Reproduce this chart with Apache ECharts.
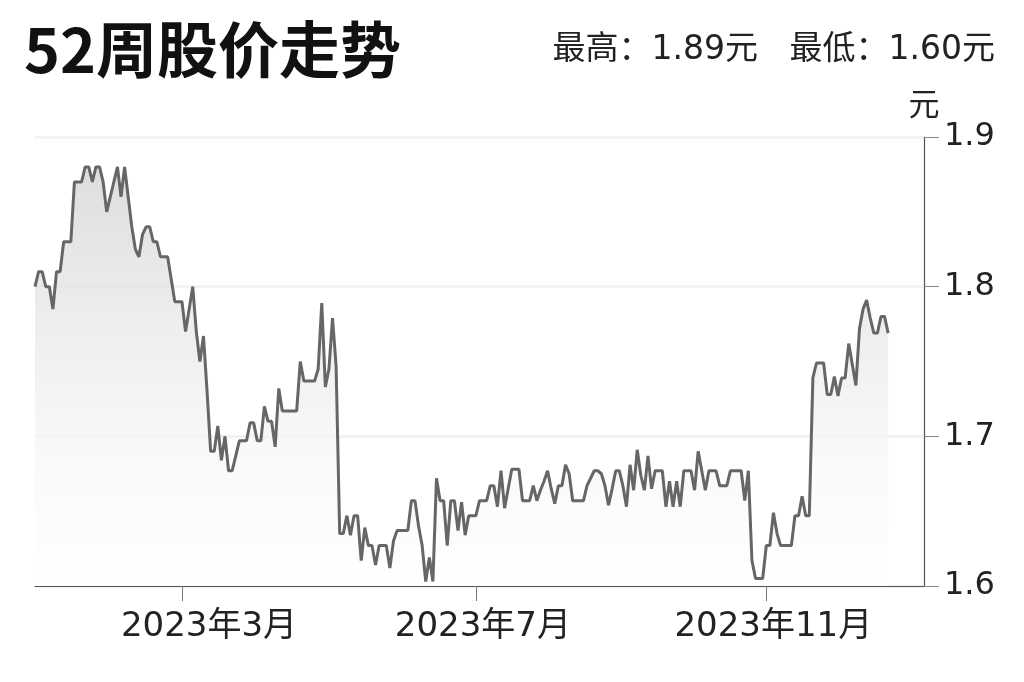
<!DOCTYPE html>
<html><head><meta charset="utf-8">
<script src="https://cdn.jsdelivr.net/npm/echarts@6/dist/echarts.min.js"></script>
<style>html,body{margin:0;padding:0;background:#fff}#c{width:1024px;height:682px}</style>
</head><body><div id="c"></div>
<script>
// Daily closing prices (元), one per trading day
const prices = [
  1.80, 1.81, 1.81, 1.80, 1.80, 1.785, 1.81, 1.81, 1.83, 1.83,
  1.83, 1.87, 1.87, 1.87, 1.88, 1.88, 1.87, 1.88, 1.88, 1.87,
  1.85, 1.86, 1.87, 1.88, 1.86, 1.88, 1.86, 1.84, 1.825, 1.82,
  1.835, 1.84, 1.84, 1.83, 1.83, 1.82, 1.82, 1.82, 1.805, 1.79,
  1.79, 1.79, 1.77, 1.785, 1.80, 1.77, 1.75, 1.767, 1.73, 1.69,
  1.69, 1.707, 1.684, 1.70, 1.677, 1.677, 1.687, 1.697, 1.697, 1.697,
  1.709, 1.709, 1.697, 1.697, 1.72, 1.71, 1.71, 1.693, 1.732, 1.717,
  1.717, 1.717, 1.717, 1.717, 1.75, 1.737, 1.737, 1.737, 1.737, 1.745,
  1.789, 1.733, 1.745, 1.779, 1.747, 1.635, 1.635, 1.647, 1.634, 1.647,
  1.647, 1.617, 1.639, 1.627, 1.627, 1.614, 1.627, 1.627, 1.627, 1.612,
  1.63, 1.637, 1.637, 1.637, 1.637, 1.657, 1.657, 1.64, 1.627, 1.603,
  1.619, 1.603, 1.672, 1.657, 1.657, 1.627, 1.657, 1.657, 1.637, 1.656,
  1.634, 1.647, 1.647, 1.647, 1.657, 1.657, 1.657, 1.667, 1.667, 1.653,
  1.677, 1.652, 1.665, 1.678, 1.678, 1.678, 1.657, 1.657, 1.657, 1.667,
  1.657, 1.664, 1.67, 1.677, 1.665, 1.655, 1.667, 1.667, 1.681, 1.675,
  1.657, 1.657, 1.657, 1.657, 1.667, 1.672, 1.677, 1.677, 1.675, 1.667,
  1.654, 1.665, 1.677, 1.677, 1.667, 1.653, 1.681, 1.664, 1.691, 1.674,
  1.664, 1.687, 1.665, 1.677, 1.677, 1.677, 1.653, 1.67, 1.653, 1.67,
  1.653, 1.677, 1.677, 1.677, 1.664, 1.69, 1.677, 1.664, 1.677, 1.677,
  1.677, 1.667, 1.667, 1.667, 1.677, 1.677, 1.677, 1.677, 1.657, 1.677,
  1.617, 1.605, 1.605, 1.605, 1.627, 1.627, 1.649, 1.635, 1.627, 1.627,
  1.627, 1.627, 1.647, 1.647, 1.66, 1.647, 1.647, 1.739, 1.749, 1.749,
  1.749, 1.728, 1.728, 1.74, 1.727, 1.739, 1.739, 1.762, 1.748, 1.734,
  1.772, 1.785, 1.791, 1.779, 1.769, 1.769, 1.78, 1.78, 1.769
];
// Trading-day index of the first trading day of each labelled month
const tickIndex = [41, 123, 204];
const tickLabels = ['2023年3月', '2023年7月', '2023年11月'];
const axisSpanDays = 248;           // trading-day slots covered by the x axis
const yMin = 1.6, yMax = 1.9, yStep = 0.1;
const titleText = '52周股价走势';
const highLowText = '最高：1.89元   最低：1.60元';
const unitText = '元';

const FONT = '"DejaVu Sans", "Noto Sans CJK SC", sans-serif';
const CJK = '"Noto Sans CJK SC", sans-serif';
const labelFont = {fontSize: 34, color: '#222', fontFamily: FONT};
const chart = echarts.init(document.getElementById('c'), null, {renderer: 'canvas'});
chart.setOption({
  backgroundColor: '#ffffff',
  animation: false,
  title: [
    {text: titleText, left: 19, top: 14,
     textStyle: {fontSize: 61, fontWeight: 'bold', color: '#111', fontFamily: CJK}},
    {text: highLowText, right: 24, top: 29,
     textStyle: {fontSize: 33, fontWeight: 'normal', color: '#222', fontFamily: FONT}}
  ],
  grid: {left: 35, right: 100, top: 137, bottom: 96},
  xAxis: {
    type: 'value', min: 0, max: axisSpanDays,
    splitLine: {show: false},
    axisLine: {show: true, onZero: false, lineStyle: {color: '#555', width: 1.2}},
    axisTick: {show: true, customValues: tickIndex, length: 15, lineStyle: {color: '#777', width: 1}},
    axisLabel: {customValues: tickIndex, margin: 24, ...labelFont,
      formatter: v => {
        const k = tickIndex.indexOf(v);
        if (k < 0) return '';
        return (k === 0 ? '{f|' : '{o|') + tickLabels[k] + '}';
      },
      rich: {
        f: {...labelFont, padding: [0, 0, 0, 54]},
        o: {...labelFont, padding: [0, 0, 0, 14]}
      }}
  },
  yAxis: {
    type: 'value', position: 'right', min: yMin, max: yMax, interval: yStep,
    name: unitText, nameLocation: 'end', nameGap: 18,
    nameTextStyle: {fontSize: 31, color: '#222', fontFamily: CJK, align: 'center'},
    axisLine: {show: true, onZero: false, lineStyle: {color: '#555', width: 1.2}},
    axisTick: {show: true, inside: false, length: 15, lineStyle: {color: '#888', width: 1}},
    axisLabel: {margin: 20, fontSize: 32, color: '#222', fontFamily: FONT,
      formatter: v => v.toFixed(1)},
    splitLine: {show: true, lineStyle: {color: '#f3f3f3', width: 3}}
  },
  series: [{
    type: 'line',
    data: prices.map((p, i) => [i, p]),
    showSymbol: false,
    lineStyle: {color: '#666666', width: 3},
    areaStyle: {
      color: {type: 'linear', x: 0, y: 0, x2: 0, y2: 1, colorStops: [
        {offset: 0, color: '#d0d0d0'},
        {offset: 0.35, color: '#e5e5e5'},
        {offset: 0.7, color: '#f7f7f7'},
        {offset: 1, color: '#ffffff'}
      ]}
    }
  }]
});
</script></body></html>
